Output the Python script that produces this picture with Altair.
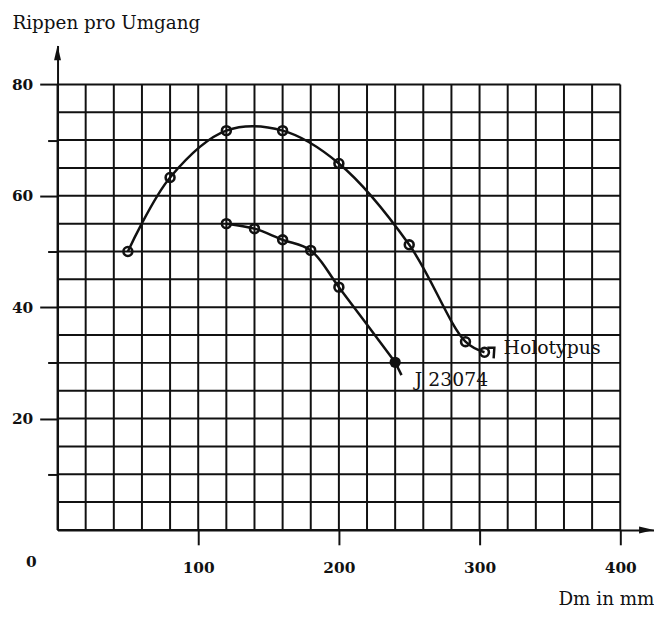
import altair as alt
import pandas as pd

# ---- data ----
holo_x = [50, 80, 120, 160, 200, 250, 290, 303.5]
holo_y = [50.0, 63.3, 71.7, 71.7, 65.8, 51.2, 33.8, 31.9]

j_x = [120, 140, 160, 180, 200, 240]
j_y = [55.0, 54.1, 52.1, 50.2, 43.6, 30.1]

label_text = ["Holotypus", "J 23074"]
label_x = [317, 254]
label_y = [32.6, 27.0]

# leader strokes from the last measured points toward the labels
leader_id = ["h", "h", "h", "j", "j"]
leader_x = [305.5, 310.5, 310.0, 240, 244.5]
leader_y = [32.7, 32.7, 30.8, 30.1, 27.8]

grid_x = list(range(0, 401, 20))
grid_y = list(range(0, 81, 5))
x_ticks = [0, 100, 200, 300, 400]
y_ticks = [10, 20, 30, 40, 50, 60, 70, 80]

X_GRID_MAX, Y_GRID_MAX = 400, 80
X_END, Y_END = 424, 87   # axis arrows end here

FONT = "DejaVu Serif"
INK = "#111111"

xs = alt.Scale(domain=[0, X_END], nice=False, zero=False)
ys = alt.Scale(domain=[0, Y_END], nice=False, zero=False)

x_axis = alt.Axis(
    values=x_ticks, grid=False, domain=True, domainColor=INK, domainWidth=2,
    ticks=True, tickSize=15, tickWidth=2, tickColor=INK,
    tickOpacity={"condition": {"test": "datum.value === 0", "value": 0}, "value": 1},
    labelFont=FONT, labelFontWeight="bold", labelFontSize=15.5, labelColor=INK,
    labelFlush=False, labelOverlap=False,
    labelOffset={"condition": {"test": "datum.value === 0", "value": -27}, "value": 0},
    labelPadding={"condition": {"test": "datum.value === 0", "value": 10}, "value": 16},
    title="Dm in mm", titleFont=FONT, titleFontWeight="normal", titleFontSize=18.5,
    titleColor=INK, titleAlign="right", titleBaseline="middle", titleX=602, titleY=69,
)

y_axis = alt.Axis(
    values=y_ticks, grid=False, domain=True, domainColor=INK, domainWidth=2,
    ticks=True, tickWidth=2, tickColor=INK,
    tickSize={"condition": {"test": "datum.value % 20 === 0", "value": 18}, "value": 10},
    labelExpr="datum.value % 20 === 0 ? datum.label : ''",
    labelFont=FONT, labelFontWeight="bold", labelFontSize=15.5, labelColor=INK,
    labelPadding=7, labelOverlap=False,
    title="Rippen pro Umgang", titleFont=FONT, titleFontWeight="normal", titleFontSize=18.5,
    titleColor=INK, titleAngle=0, titleAlign="left", titleBaseline="middle",
    titleX=-46, titleY=-23,
)


def X(field, **kw):
    return alt.X(field, type="quantitative", scale=xs, axis=x_axis, **kw)


def Y(field, **kw):
    return alt.Y(field, type="quantitative", scale=ys, axis=y_axis, **kw)


vgrid = pd.DataFrame({"gx": grid_x, "y0": 0, "y1": Y_GRID_MAX})
hgrid = pd.DataFrame({"gy": grid_y, "x0": 0, "x1": X_GRID_MAX})
holo = pd.DataFrame({"x": holo_x, "y": holo_y})
jdf = pd.DataFrame({"x": j_x, "y": j_y})
labels = pd.DataFrame({"t": label_text, "x": label_x, "y": label_y})
leaders = pd.DataFrame({"id": leader_id, "x": leader_x, "y": leader_y,
                        "o": list(range(len(leader_x)))})
arrows = pd.DataFrame({"x": [0, X_END], "y": [Y_END, 0], "k": ["up", "right"]})

vrules = alt.Chart(vgrid).mark_rule(color=INK, strokeWidth=2).encode(
    x=X("gx"), y=Y("y0"), y2="y1")
hrules = alt.Chart(hgrid).mark_rule(color=INK, strokeWidth=2).encode(
    y=Y("gy"), x=X("x0"), x2="x1")

holo_line = alt.Chart(holo).mark_line(color=INK, strokeWidth=2.5, interpolate="catmull-rom").encode(
    x=X("x"), y=Y("y"))
j_line = alt.Chart(jdf).mark_line(color=INK, strokeWidth=2.5, interpolate="catmull-rom").encode(
    x=X("x"), y=Y("y"))
leader_lines = alt.Chart(leaders).mark_line(color=INK, strokeWidth=2.5).encode(
    x=X("x"), y=Y("y"), detail="id:N", order="o:Q")

holo_pts = alt.Chart(holo).mark_point(shape="circle", filled=False, size=80,
                                      strokeWidth=2.6, color=INK, opacity=1).encode(
    x=X("x"), y=Y("y"))
j_open = alt.Chart(jdf.iloc[:-1]).mark_point(shape="circle", filled=False, size=80,
                                             strokeWidth=2.6, color=INK, opacity=1).encode(
    x=X("x"), y=Y("y"))
j_solid = alt.Chart(jdf.iloc[-1:]).mark_point(shape="circle", filled=True, size=130,
                                              color=INK, opacity=1).encode(
    x=X("x"), y=Y("y"))

texts = alt.Chart(labels).mark_text(align="left", baseline="middle", font=FONT,
                                    fontSize=19, color=INK).encode(
    x=X("x"), y=Y("y"), text="t:N")

arrow_up = alt.Chart(arrows[arrows.k == "up"]).mark_point(
    shape="M0,0L0.42,1.8L-0.42,1.8Z", filled=True, size=280, color=INK, opacity=1).encode(
    x=X("x"), y=Y("y"))
arrow_right = alt.Chart(arrows[arrows.k == "right"]).mark_point(
    shape="M0,0L-1.8,-0.42L-1.8,0.42Z", filled=True, size=280, color=INK, opacity=1).encode(
    x=X("x"), y=Y("y"))

chart = alt.layer(
    vrules, hrules, holo_line, j_line, leader_lines,
    holo_pts, j_open, j_solid, texts, arrow_up, arrow_right,
).properties(
    width=602, height=489,
    autosize=alt.AutoSizeParams(type="none"),
    padding={"left": 50, "top": 35, "right": 0, "bottom": 77},
    background="white",
).configure_view(stroke=None)

chart.save("out.html", embed_options={"renderer": "svg", "actions": False})
